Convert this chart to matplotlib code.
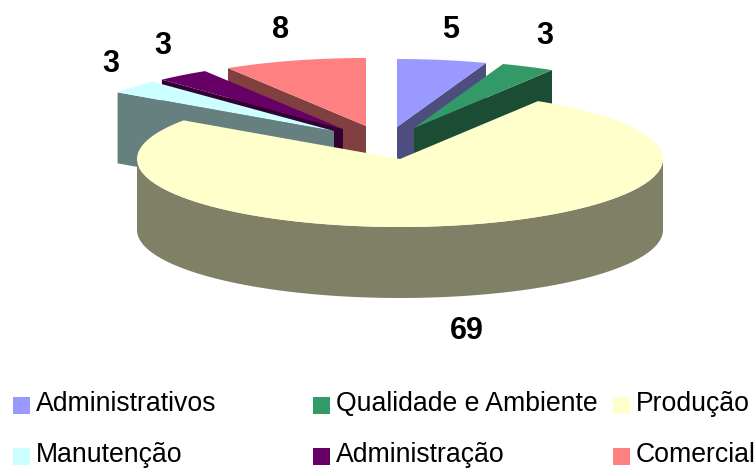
import numpy as np
import matplotlib
matplotlib.use("Agg")
import matplotlib.pyplot as plt
from matplotlib.patches import Polygon, Rectangle

categories = ["Administrativos", "Qualidade e Ambiente", "Produção",
              "Manutenção", "Administração", "Comercial"]
values = [5, 3, 69, 3, 3, 8]
top_colors = ["#9999FF", "#339966", "#FFFFCC", "#CCFFFF", "#660066", "#FF8080"]
side_colors = ["#4D4D80", "#1A4D33", "#808066", "#668080", "#330033", "#804040"]

# chart geometry (pixels of the figure)
apexes = [(397, 127), (414, 128), (400, 159), (334, 131), (343, 129), (366, 126)]
RX, RY, DEPTH = 263, 68, 71
label_pos = [(451, 30), (545, 36), (467, 331), (111, 64), (163, 46), (281, 30)]
draw_order = [5, 4, 3, 0, 1, 2]
legend_cols = [13, 313, 613]
legend_rows = [406, 457]

plt.rcParams["font.family"] = ["Liberation Sans", "DejaVu Sans"]
fig = plt.figure(figsize=(7.56, 4.68), dpi=100)
ax = fig.add_axes([0, 0, 1, 1])
ax.set_xlim(0, 756)
ax.set_ylim(468, 0)
ax.axis("off")

edges = np.concatenate([[0], np.cumsum(values)]) / sum(values) * 2 * np.pi


def arc(apex, t0, t1, n=120):
    t = np.linspace(t0, t1, n)
    return np.column_stack([apex[0] + RX * np.sin(t), apex[1] - RY * np.cos(t)])


for i in draw_order:
    apex = np.array(apexes[i], float)
    t0, t1 = edges[i], edges[i + 1]
    pts = arc(apex, t0, t1)
    down = np.array([0, DEPTH])
    if t1 - t0 > np.pi:
        # large slice: curved rim along the near half of the ellipse
        rim = arc(apex, np.pi / 2, 3 * np.pi / 2)
        ax.add_patch(Polygon(np.vstack([rim, (rim + down)[::-1]]),
                             fc=side_colors[i], ec="none", zorder=len(ax.patches)))
    else:
        # cut face that looks towards the viewer
        edge_t = t1 if np.sin(t0 + (t1 - t0) / 2) > 0 else t0
        outer = arc(apex, edge_t, edge_t, 1)[0]
        ax.add_patch(Polygon([apex, outer, outer + down, apex + down],
                             fc=side_colors[i], ec="none", zorder=len(ax.patches)))
    ax.add_patch(Polygon(np.vstack([apex, pts]), fc=top_colors[i], ec="none",
                         zorder=len(ax.patches)))

for v, (x, y) in zip(values, label_pos):
    ax.text(x, y, str(v), ha="center", va="center", fontsize=22,
            fontweight="bold", color="black", zorder=50)

for i, name in enumerate(categories):
    x = legend_cols[i % 3]
    y = legend_rows[i // 3]
    ax.add_patch(Rectangle((x, y - 9), 17, 17, fc=top_colors[i], ec="none", zorder=50))
    ax.text(x + 23, y - 2, name, ha="left", va="center", fontsize=19.2,
            color="black", zorder=50)

fig.savefig("out.png", dpi=100)
